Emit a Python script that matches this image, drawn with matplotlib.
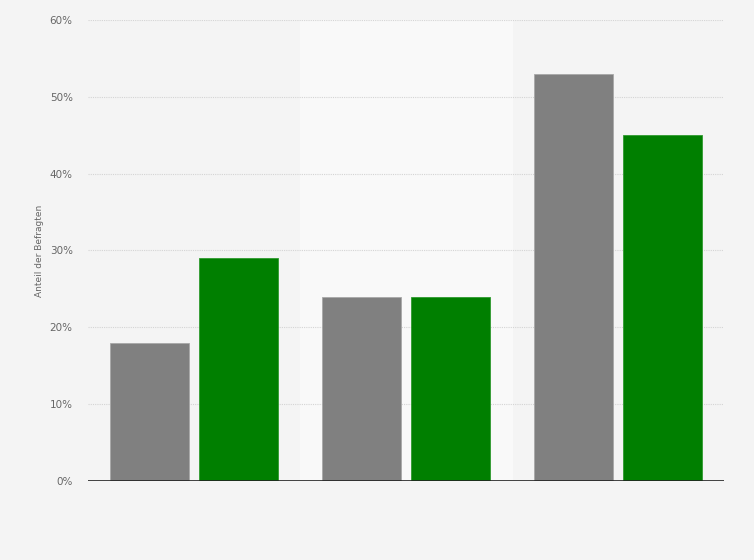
import numpy as np
import matplotlib
matplotlib.use("Agg")
import matplotlib.pyplot as plt
from matplotlib.ticker import FuncFormatter

# data
categories = ["A", "B", "C"]
grey_values = [18, 24, 53]
green_values = [29, 24, 45]
y_ticks = [0, 10, 20, 30, 40, 50, 60]

bg = "#f4f4f4"
text_col = "#666666"

fig = plt.figure(figsize=(7.54, 5.6), dpi=100, facecolor=bg)
ax = fig.add_axes([0.1167, 0.1411, 0.8435, 0.8232])
ax.set_facecolor(bg)

x = np.arange(len(categories))
w = 0.375
off = 0.21

# lighter band behind the middle category
ax.axvspan(0.5, 1.5, color="#f9f9f9", zorder=0)

for t in y_ticks[1:]:
    ax.axhline(t, color="#d4d4d4", lw=0.8, ls=(0, (1, 1)), zorder=1)

ax.bar(x - off, grey_values, w, color="#808080", edgecolor="#a8a8a8", lw=0.6, zorder=2)
ax.bar(x + off, green_values, w, color="#007f00", edgecolor="#2f9a2f", lw=0.6, zorder=2)

ax.axhline(0, color="#222222", lw=1.2, zorder=3)

ax.set_xlim(-0.5, 2.5)
ax.set_ylim(0, 60)
ax.set_yticks(y_ticks)
ax.yaxis.set_major_formatter(FuncFormatter(lambda v, p: "%d%%" % v))
ax.set_xticks([])
ax.tick_params(axis="y", length=0, pad=11, labelsize=7.5, labelcolor=text_col)
for s in ax.spines.values():
    s.set_visible(False)

ax.set_ylabel("Anteil der Befragten", fontsize=6.5, color=text_col, labelpad=4)

fig.savefig("out.png", dpi=100, facecolor=bg)
